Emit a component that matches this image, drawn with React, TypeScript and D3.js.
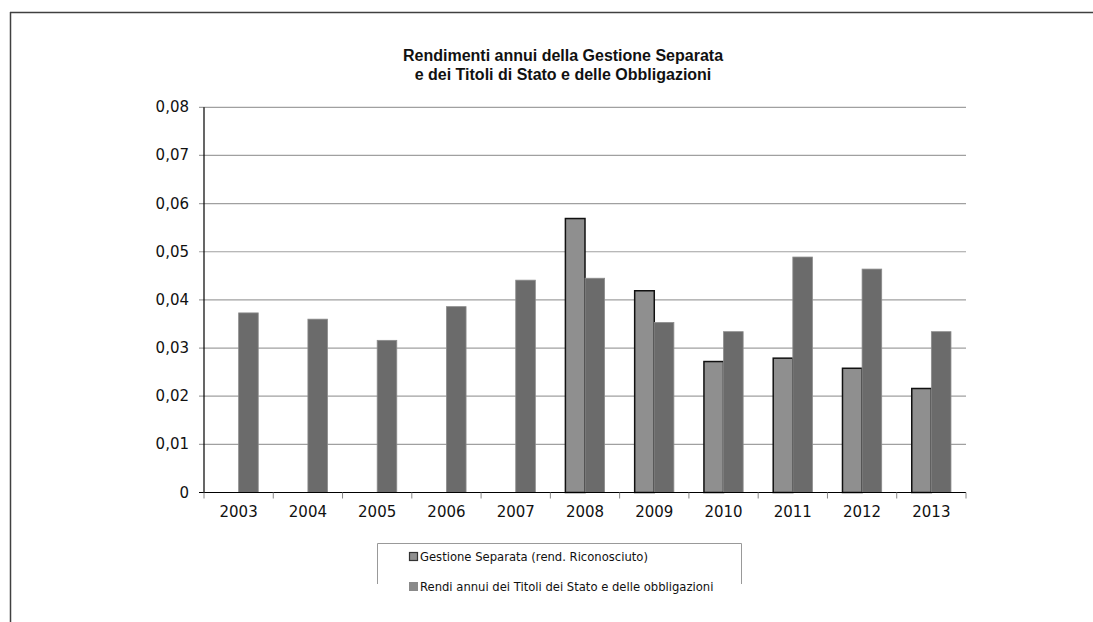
import React from "react";
import * as d3 from "d3";

const years = ["2003","2004","2005","2006","2007","2008","2009","2010","2011","2012","2013"];
const gestione: (number | null)[] = [null, null, null, null, null, 0.0569, 0.0419, 0.0272, 0.0279, 0.0258, 0.0216];
const titoli: number[] = [0.0373, 0.0360, 0.0316, 0.0386, 0.0441, 0.0445, 0.0353, 0.0334, 0.0489, 0.0464, 0.0334];
const yTicks = [0, 0.01, 0.02, 0.03, 0.04, 0.05, 0.06, 0.07, 0.08];
const titleLines = ["Rendimenti annui della Gestione Separata", "e dei Titoli di Stato e delle Obbligazioni"];
const legendLabels = ["Gestione Separata (rend. Riconosciuto)", "Rendi annui dei Titoli dei Stato e delle obbligazioni"];

const W = 1093, H = 622;
const left = 204, right = 966, top = 107.3, bottom = 492.5;
const fmt = (v: number) => (v === 0 ? "0" : v.toFixed(2).replace(".", ","));

export default function App() {
  const x = d3.scaleBand<string>().domain(years).range([left, right]).paddingInner(0).paddingOuter(0);
  const y = d3.scaleLinear().domain([0, 0.08]).range([bottom, top]);
  const bw = x.bandwidth();
  const barW = bw * 0.283;
  const font = "'DejaVu Sans', Verdana, sans-serif";
  return (
    <svg width={W} height={H} style={{ position: "absolute", left: 0, top: 0 }}>
      <rect x={0} y={0} width={W} height={H} fill="#fff" />
      {/* outer frame */}
      <line x1={10.5} y1={12} x2={10.5} y2={H} stroke="#404040" strokeWidth={1.5} />
      <line x1={10} y1={12.5} x2={W} y2={12.5} stroke="#404040" strokeWidth={1.5} />
      {/* title */}
      {titleLines.map((t, i) => (
        <text key={i} x={563} y={61 + i * 19} textAnchor="middle" fontFamily="'Liberation Sans', Arial, sans-serif" fontWeight="bold" fontSize={16} fill="#111">{t}</text>
      ))}
      {/* gridlines */}
      {yTicks.map((t) => (
        <g key={t}>
          {t > 0 && <line x1={left - 5} x2={right} y1={y(t)} y2={y(t)} stroke="#a0a0a0" strokeWidth={1.2} />}
          <text x={189} y={y(t) + 5} textAnchor="end" fontFamily={font} fontSize={15} fill="#111">{fmt(t)}</text>
        </g>
      ))}
      {/* bars */}
      {years.map((yr, i) => {
        const c = (x(yr) as number) + bw / 2;
        const g = gestione[i];
        const tv = titoli[i];
        return (
          <g key={yr}>
            {g !== null && (
              <rect x={c - barW} y={y(g)} width={barW} height={bottom - y(g)} fill="#8f8f8f" stroke="#111" strokeWidth={1.5} />
            )}
            <rect x={c} y={y(tv)} width={barW} height={bottom - y(tv)} fill="#6b6b6b" stroke="#8c8c8c" strokeWidth={0.8} />
          </g>
        );
      })}
      {/* axes */}
      <line x1={left} x2={left} y1={top} y2={bottom} stroke="#000" strokeWidth={1.2} />
      <line x1={left - 5} x2={right} y1={bottom} y2={bottom} stroke="#000" strokeWidth={1.2} />
      {[...years.map((yr) => x(yr) as number), right].map((px, i) => (
        <line key={i} x1={px} x2={px} y1={bottom} y2={bottom + 6} stroke="#888" strokeWidth={1} />
      ))}
      {years.map((yr) => (
        <text key={yr} x={(x(yr) as number) + bw / 2} y={517} textAnchor="middle" fontFamily={font} fontSize={15} fill="#111">{yr}</text>
      ))}
      {/* legend */}
      <path d="M377.5,584 V543.5 H741.5 V584" fill="none" stroke="#999" strokeWidth={1} />
      <rect x={409.5} y={552.5} width={8} height={8} fill="#8f8f8f" stroke="#333" strokeWidth={1.2} />
      <text x={420} y={561} fontFamily={font} fontSize={11.6} fill="#111">{legendLabels[0]}</text>
      <rect x={409} y={582} width={9} height={9} fill="#8a8a8a" />
      <text x={420} y={591} fontFamily={font} fontSize={11.6} fill="#111">{legendLabels[1]}</text>
    </svg>
  );
}
